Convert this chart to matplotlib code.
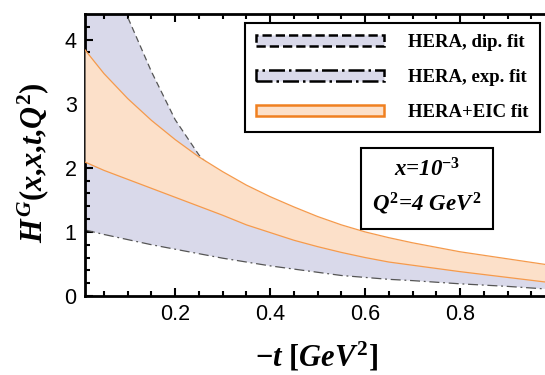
import matplotlib.pyplot as plt
from matplotlib.patches import Patch

plt.rcParams['mathtext.fontset'] = 'custom'
plt.rcParams['mathtext.rm'] = 'Liberation Serif:bold'
plt.rcParams['mathtext.it'] = 'Liberation Serif:bold:italic'
plt.rcParams['mathtext.bf'] = 'Liberation Serif:bold'

# -t grid [GeV^2]
t = [0.01, 0.05, 0.1, 0.15, 0.2, 0.25, 0.3, 0.35, 0.4, 0.45, 0.5,
     0.55, 0.6, 0.65, 0.7, 0.8, 0.9, 1.0]

# HERA dipole fit, upper edge (dashed)
dip_hi = [6.5, 5.45, 4.35, 3.5, 2.75, 2.2, 1.8, 1.5, 1.25, 1.05, 0.9,
          0.8, 0.7, 0.62, 0.55, 0.45, 0.37, 0.3]
# HERA exponential fit, lower edge (dash-dot)
exp_lo = [1.03, 0.96, 0.88, 0.8, 0.73, 0.66, 0.59, 0.53, 0.47, 0.42, 0.37,
          0.32, 0.29, 0.26, 0.24, 0.19, 0.15, 0.1]
# HERA+EIC fit band
eic_hi = [3.84, 3.47, 3.08, 2.74, 2.44, 2.17, 1.94, 1.73, 1.55, 1.39, 1.24,
          1.11, 1.0, 0.91, 0.83, 0.69, 0.58, 0.47]
eic_lo = [2.09, 1.96, 1.82, 1.68, 1.54, 1.4, 1.26, 1.11, 0.99, 0.87, 0.77,
          0.68, 0.6, 0.53, 0.48, 0.38, 0.29, 0.2]

blue = '#d9d9ea'
peach = '#fce0c9'
orange = '#f59a4c'

fig = plt.figure(figsize=(5.45, 3.75), dpi=100)
ax = fig.add_axes([85/545, 79/375, 470/545, 282/375])

ax.fill_between(t, exp_lo, dip_hi, color=blue, lw=0, zorder=1)
ax.plot(t, dip_hi, color='#555555', lw=0.9, ls=(0, (5, 3)), zorder=2)
ax.plot(t, exp_lo, color='#555555', lw=0.9, ls=(0, (8, 3, 1.5, 3)), zorder=2)
ax.fill_between(t, eic_lo, eic_hi, color=peach, lw=0, zorder=3)
ax.plot(t, eic_hi, color=orange, lw=0.9, zorder=4)
ax.plot(t, eic_lo, color=orange, lw=0.9, zorder=4)

ax.set_xlim(0.01, 1.0)
ax.set_ylim(0, 4.4)
ax.set_xticks([0.2, 0.4, 0.6, 0.8])
ax.set_xticks([x / 20 for x in range(1, 20)], minor=True)
ax.set_yticks([0, 1, 2, 3, 4])
ax.set_yticks([y / 5 for y in range(0, 22)], minor=True)
ax.tick_params(which='both', direction='in', top=True, right=True, width=1.5,
               labelsize=15.5, pad=6)
ax.tick_params(which='major', length=6)
ax.tick_params(which='minor', length=3.5)
for lab in ax.get_xticklabels() + ax.get_yticklabels():
    lab.set_family('Liberation Sans')
for s in ax.spines.values():
    s.set_linewidth(2)

fig.text(317/545, 1 - 356/375, r'$-t\ [GeV^{2}]$', fontsize=22,
         ha='center', va='center')
fig.text(33/545, 1 - 163/375, r'$H^{G}(x{,}x{,}t{,}Q^{2})$', fontsize=22,
         ha='center', va='center', rotation=90)

handles = [
    Patch(facecolor=blue, edgecolor='black', ls='--', lw=1.8),
    Patch(facecolor=blue, edgecolor='black', ls='-.', lw=1.8),
    Patch(facecolor=peach, edgecolor='#f08020', lw=1.8),
]
labels = ['HERA, dip. fit', 'HERA, exp. fit', 'HERA+EIC fit']
leg = ax.legend(handles, labels, loc='upper left',
                bbox_to_anchor=(245/545, 1 - 23/375),
                bbox_transform=fig.transFigure, borderaxespad=0,
                fancybox=False, framealpha=1, edgecolor='black',
                handlelength=6.8, handleheight=0.55, handletextpad=1.3,
                labelspacing=0.95, borderpad=0.6,
                prop={'family': 'Liberation Serif', 'weight': 'bold', 'size': 13.5})
leg.get_frame().set_linewidth(1.5)

ax.text(427/545, 1 - 188/375,
        '$x$=10$^{-3}$\n$Q^{2}$=4 $GeV^{2}$',
        transform=fig.transFigure, ha='center', va='center', fontsize=16.5,
        family='Liberation Serif', style='italic', weight='bold',
        linespacing=1.45, zorder=6,
        bbox=dict(boxstyle='square,pad=0.5', facecolor='white',
                  edgecolor='black', lw=1.5))

fig.savefig('out.png', dpi=100)
